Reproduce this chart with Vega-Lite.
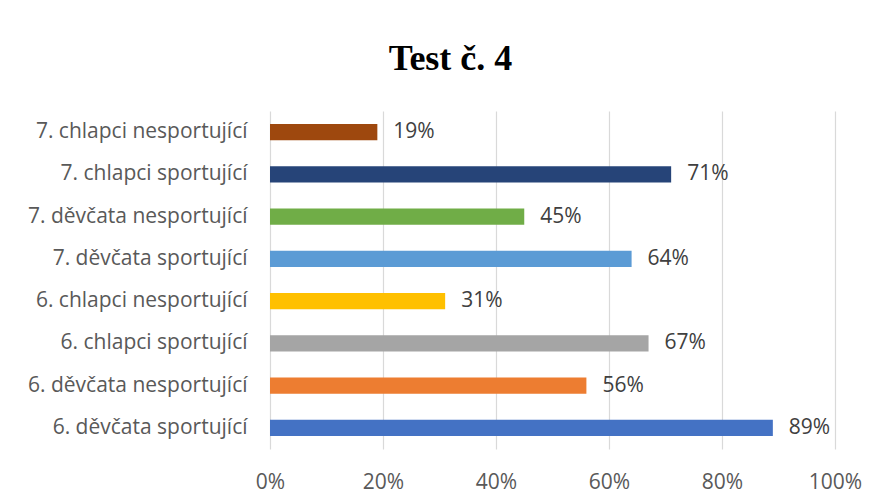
{
  "$schema": "https://vega.github.io/schema/vega-lite/v6.json",
  "width": 565,
  "height": 338,
  "autosize": {"type": "none"},
  "padding": {"left": 270, "top": 111, "right": 44, "bottom": 55},
  "background": "white",
  "title": {
    "text": "Test č. 4",
    "font": "Liberation Serif",
    "fontSize": 36,
    "fontWeight": "bold",
    "color": "black",
    "anchor": "middle",
    "dx": -102,
    "offset": 33
  },
  "data": {
    "values": [
      {"group": "7. chlapci nesportující", "value": 0.19},
      {"group": "7. chlapci sportující", "value": 0.71},
      {"group": "7. děvčata nesportující", "value": 0.45},
      {"group": "7. děvčata sportující", "value": 0.64},
      {"group": "6. chlapci nesportující", "value": 0.31},
      {"group": "6. chlapci sportující", "value": 0.67},
      {"group": "6. děvčata nesportující", "value": 0.56},
      {"group": "6. děvčata sportující", "value": 0.89}
    ]
  },
  "encoding": {
    "y": {
      "field": "group",
      "type": "nominal",
      "sort": null,
      "scale": {"paddingInner": 0.62, "paddingOuter": 0.31},
      "axis": {
        "title": null,
        "ticks": false,
        "domain": false,
        "labelFont": "Open Sans",
        "labelFontSize": 21,
        "labelColor": "#595959",
        "labelPadding": 23,
        "labelAlign": "right",
        "labelLimit": 400
      }
    },
    "x": {
      "field": "value",
      "type": "quantitative",
      "scale": {"domain": [0, 1]},
      "axis": {
        "title": null,
        "format": ".0%",
        "values": [0, 0.2, 0.4, 0.6, 0.8, 1],
        "ticks": false,
        "domain": false,
        "grid": true,
        "gridColor": "#d9d9d9",
        "gridWidth": 1.2,
        "labelFont": "Open Sans",
        "labelFontSize": 21,
        "labelColor": "#595959",
        "labelPadding": 22,
        "labelFlush": false
      }
    }
  },
  "layer": [
    {
      "mark": {"type": "bar"},
      "encoding": {
        "color": {
          "field": "group",
          "type": "nominal",
          "legend": null,
          "scale": {
            "domain": [
              "7. chlapci nesportující",
              "7. chlapci sportující",
              "7. děvčata nesportující",
              "7. děvčata sportující",
              "6. chlapci nesportující",
              "6. chlapci sportující",
              "6. děvčata nesportující",
              "6. děvčata sportující"
            ],
            "range": ["#9E480E", "#264478", "#70AD47", "#5B9BD5", "#FFC000", "#A5A5A5", "#ED7D31", "#4472C4"]
          }
        }
      }
    },
    {
      "mark": {"type": "text", "align": "left", "baseline": "middle", "dx": 16, "font": "Open Sans", "fontSize": 21, "color": "#404040"},
      "encoding": {
        "text": {"field": "value", "type": "quantitative", "format": ".0%"}
      }
    }
  ],
  "config": {"view": {"stroke": null}}
}
